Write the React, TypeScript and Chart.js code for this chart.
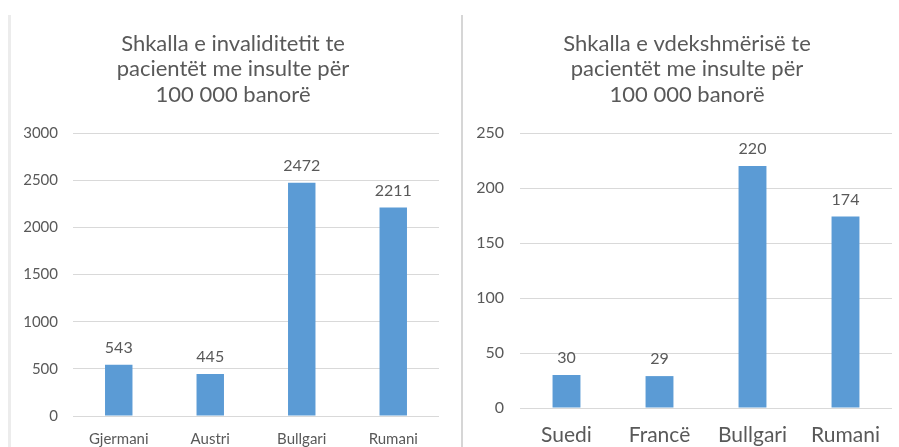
import React, { useEffect, useRef } from "react";
import { Chart, registerables } from "chart.js";

Chart.register(...registerables);

const leftTitle = ["Shkalla e invaliditetit te", "pacientët me insulte për", "100 000 banorë"];
const leftCategories = ["Gjermani", "Austri", "Bullgari", "Rumani"];
const leftValues = [543, 445, 2472, 2211];
const leftMax = 3000;
const leftStep = 500;

const rightTitle = ["Shkalla e vdekshmërisë te", "pacientët me insulte për", "100 000 banorë"];
const rightCategories = ["Suedi", "Francë", "Bullgari", "Rumani"];
const rightValues = [30, 29, 220, 174];
const rightMax = 250;
const rightStep = 50;

const FONT = "Lato, 'Open Sans', sans-serif";
const TEXT = "#595959";
const BAR = "#5B9BD5";
const GRID = "#D9D9D9";

const valueLabels = {
  id: "valueLabels",
  afterLayout(chart: any, _args: any, opts: any) {
    const tb = chart.titleBlock;
    if (tb && typeof opts.titleCenter === "number") {
      const half = (tb.right - tb.left) / 2;
      tb.left = opts.titleCenter - half;
      tb.right = opts.titleCenter + half;
    }
  },
  afterDatasetsDraw(chart: any, _args: any, opts: any) {
    const ctx = chart.ctx;
    const meta = chart.getDatasetMeta(0);
    const data = chart.data.datasets[0].data;
    ctx.save();
    ctx.fillStyle = TEXT;
    ctx.font = `${opts.size || 15}px ${FONT}`;
    ctx.textAlign = "center";
    ctx.textBaseline = "middle";
    meta.data.forEach((el: any, i: number) => {
      ctx.fillText(String(data[i]), el.x, el.y - (opts.offset || 17));
    });
    ctx.restore();
  },
};

type Cfg = {
  title: string[];
  categories: string[];
  values: number[];
  max: number;
  step: number;
  padRight: number;
  yWidth: number;
  xHeight: number;
  titleCenter: number;
  titleSize: number;
  titlePadTop: number;
  titlePadBottom: number;
  tickSize: number;
  xSize: number;
  xPad: number;
  yPad: number;
  labelSize: number;
};

function BarChart({ cfg, width, height }: { cfg: Cfg; width: number; height: number }) {
  const ref = useRef<HTMLCanvasElement | null>(null);
  useEffect(() => {
    if (!ref.current) return;
    const chart = new Chart(ref.current, {
      type: "bar",
      data: {
        labels: cfg.categories,
        datasets: [
          {
            data: cfg.values,
            backgroundColor: BAR,
            borderWidth: 0,
            categoryPercentage: 1,
            barPercentage: 0.3,
          },
        ],
      },
      plugins: [valueLabels],
      options: {
        responsive: false,
        animation: false,
        devicePixelRatio: 1,
        layout: { padding: { left: 0, right: cfg.padRight, top: 0, bottom: 0 } },
        plugins: {
          legend: { display: false },
          tooltip: { enabled: false },
          title: {
            display: true,
            text: cfg.title,
            color: TEXT,
            font: { family: FONT, size: cfg.titleSize, weight: "normal", lineHeight: "25.5px" },
            padding: { top: cfg.titlePadTop, bottom: cfg.titlePadBottom },
          },
          valueLabels: { size: cfg.labelSize, offset: 17, titleCenter: cfg.titleCenter },
        } as any,
        scales: {
          x: {
            grid: { display: false, drawTicks: false },
            border: { display: false },
            ticks: { color: TEXT, font: { family: FONT, size: cfg.xSize }, padding: cfg.xPad, maxRotation: 0 },
            afterFit: (s: any) => {
              s.height = cfg.xHeight;
            },
          },
          y: {
            min: 0,
            max: cfg.max,
            grid: { color: GRID, drawTicks: false, lineWidth: 1 },
            border: { display: false },
            ticks: {
              stepSize: cfg.step,
              color: TEXT,
              font: { family: FONT, size: cfg.tickSize },
              padding: cfg.yPad,
              callback: (v: any) => String(v),
            },
            afterFit: (s: any) => {
              s.width = cfg.yWidth;
            },
          },
        },
      } as any,
    });
    return () => chart.destroy();
  }, [cfg]);
  return <canvas ref={ref} width={width} height={height} style={{ display: "block" }} />;
}

const leftCfg: Cfg = {
  title: leftTitle,
  categories: leftCategories,
  values: leftValues,
  max: leftMax,
  step: leftStep,
  padRight: 16,
  yWidth: 73,
  xHeight: 31,
  titleCenter: 233,
  titleSize: 22,
  titlePadTop: 31,
  titlePadBottom: 25.5,
  tickSize: 15,
  xSize: 15,
  xPad: 14,
  yPad: 15,
  labelSize: 16,
};

const rightCfg: Cfg = {
  title: rightTitle,
  categories: rightCategories,
  values: rightValues,
  max: rightMax,
  step: rightStep,
  padRight: 7,
  yWidth: 55,
  xHeight: 39,
  titleCenter: 222,
  titleSize: 22,
  titlePadTop: 31,
  titlePadBottom: 25.5,
  tickSize: 16,
  xSize: 21,
  xPad: 15,
  yPad: 16,
  labelSize: 16,
};

export default function App() {
  return (
    <div style={{ position: "absolute", left: 0, top: 0, width: 899, height: 447, background: "#fff", overflow: "hidden" }}>
      <div style={{ position: "absolute", left: 8, top: 15, width: 3, height: 432, background: "#ececec" }} />
      <div style={{ position: "absolute", left: 461, top: 15, width: 2, height: 432, background: "#d6d6d6" }} />
      <div style={{ position: "absolute", left: 0, top: 0 }}>
        <BarChart cfg={leftCfg} width={455} height={447} />
      </div>
      <div style={{ position: "absolute", left: 465, top: 0 }}>
        <BarChart cfg={rightCfg} width={434} height={447} />
      </div>
    </div>
  );
}
